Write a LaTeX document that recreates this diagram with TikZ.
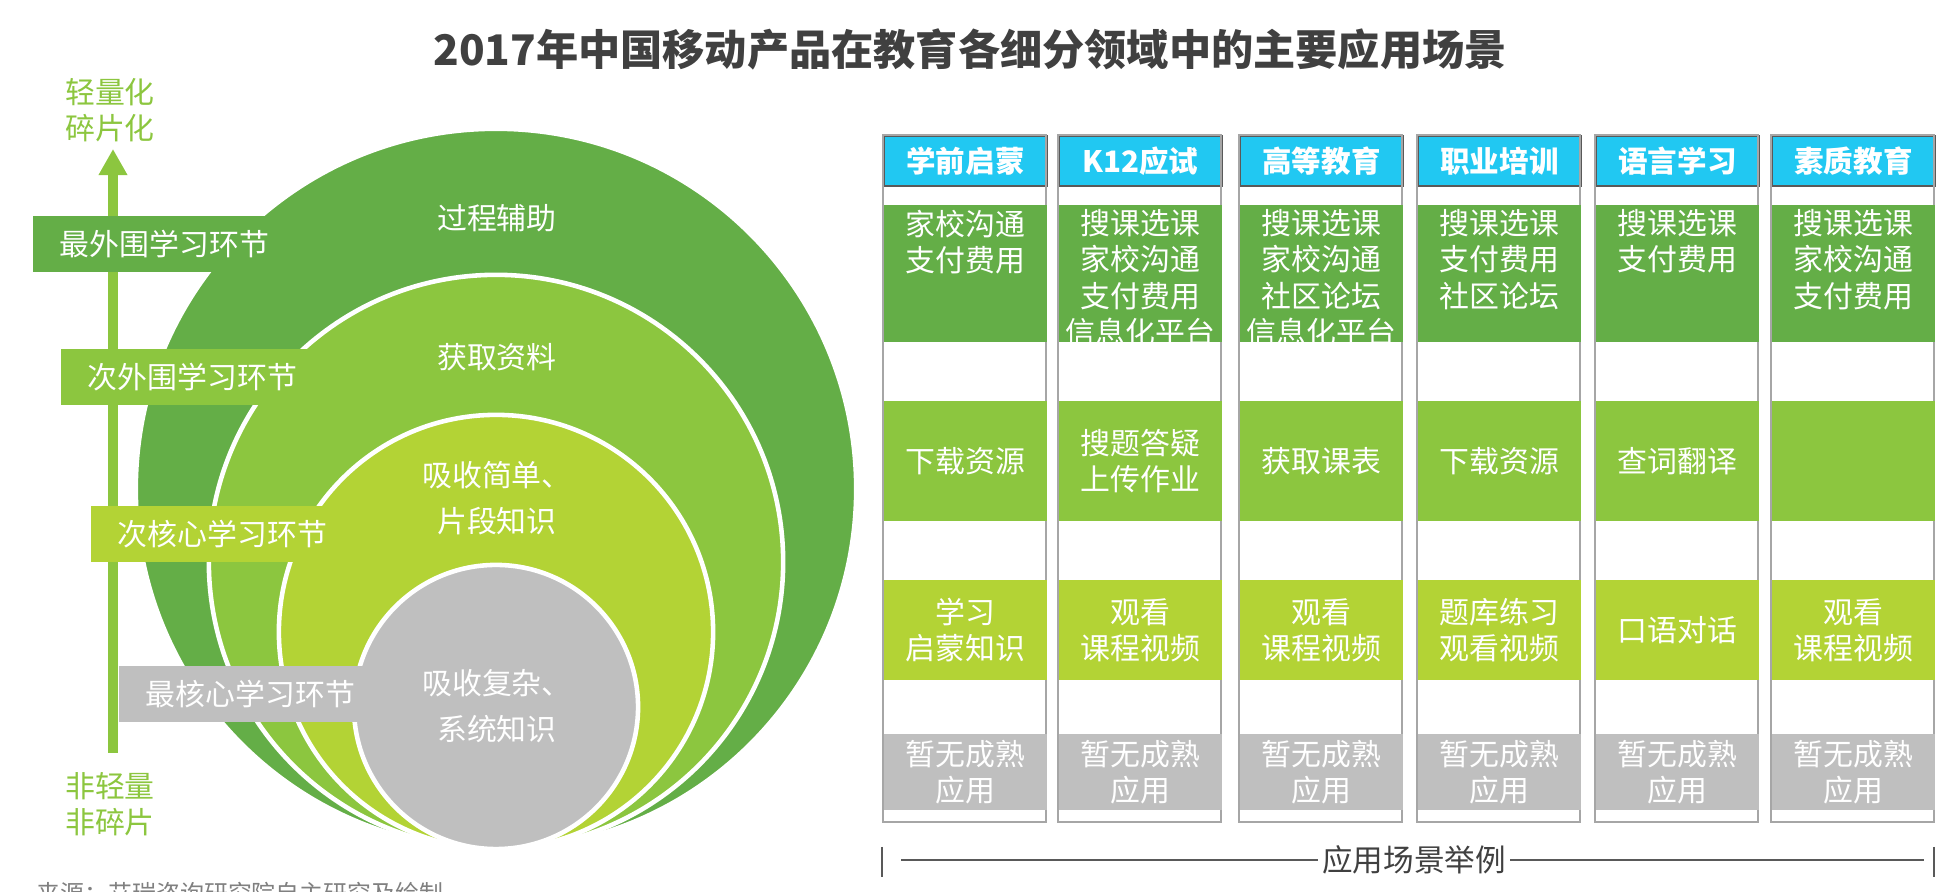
\documentclass[tikz,border=0pt]{standalone}
\usepackage{fontspec}
\setmainfont{Noto Sans CJK SC}
\usepackage{tikz}
\usetikzlibrary{arrows.meta,positioning}
\definecolor{gdark}{RGB}{100,174,71}
\definecolor{glight}{RGB}{140,198,63}
\definecolor{gyellow}{RGB}{179,211,53}
\definecolor{ggray}{RGB}{191,191,191}
\definecolor{hdcyan}{RGB}{33,200,242}
\definecolor{inkgray}{RGB}{64,64,64}

\begin{document}
\begin{tikzpicture}[x=0.01cm,y=-0.01cm,>=Stealth,node distance=0.5cm,
  txt/.style={font=\fontsize{8.5}{10.25}\selectfont},
  ring/.style={circle,draw=white,line width=1.3pt,inner sep=0},
  ringtxt/.style={text=white,align=center,font=\fontsize{8.5}{13.1}\selectfont},
  lvl/.style={anchor=west,minimum height=0.56cm,inner xsep=0.27cm,inner ysep=0,text=white,align=left,txt,text width=#1},
  hdr/.style={fill=hdcyan,draw=black!65,line width=0.6pt,minimum width=1.63cm,minimum height=0.5cm,inner sep=0,text=white,font=\bfseries\fontsize{8.4}{10}\selectfont},
  cell/.style={minimum width=1.63cm,inner sep=0,text=white,align=center,txt}]
  \useasboundingbox (0,0) rectangle (1956,892);

  \node[font=\bfseries\fontsize{12}{14}\selectfont,text=inkgray] (title) at (970,49) {2017年中国移动产品在教育各细分领域中的主要应用场景};

  % axis on the left
  \node[txt,text=glight,align=center] (light) at (110,110) {轻量化\\碎片化};
  \node[txt,text=glight,align=center] (heavy) at (110,804) {非轻量\\非碎片};
  \coordinate (axLow) at (113,753);
  \coordinate (axTop) at (113,149);
  \draw[glight,line width=0.09cm,-{Triangle[length=0.26cm,width=0.27cm]}] (axLow) -- (axTop);

  % nested rings and their labels
  \node[ring,fill=gdark,minimum size=7.2cm] (ringA) at (496,489) {};
  \node[lvl=2.44cm,fill=gdark] (labA) at (32,244) {最外围学习环节};
  \node[ring,fill=glight,minimum size=5.74cm] (ringB) at (496,562) {};
  \node[lvl=2.66cm,fill=glight] (labB) at (60,377) {次外围学习环节};
  \node[ring,fill=gyellow,minimum size=4.34cm] (ringC) at (496,632) {};
  \node[lvl=2.46cm,fill=gyellow] (labC) at (90,534) {次核心学习环节};
  \node[ring,fill=ggray,minimum size=2.84cm] (core) at (496,707) {};
  \node[lvl=2.28cm,fill=ggray] (labD) at (118,694) {最核心学习环节};
  \node[ringtxt] (tA) at (497,218) {过程辅助};
  \node[ringtxt] (tB) at (497,357) {获取资料};
  \node[ringtxt] (tC) at (497,498) {吸收简单、\\片段知识};
  \node[ringtxt] (tD) at (497,706) {吸收复杂、\\系统知识};

  % table of scenarios
  \node[hdr] (h1) at (965.5,161) {学前启蒙};
  \node[hdr] (h2) at (1140.5,161) {K12应试};
  \node[hdr] (h3) at (1321.5,161) {高等教育};
  \node[hdr] (h4) at (1499.5,161) {职业培训};
  \node[hdr] (h5) at (1677.5,161) {语言学习};
  \node[hdr] (h6) at (1853.5,161) {素质教育};
  \draw[black!35] (h1.north west) rectangle ++(163,687);
  \draw[black!35] (h2.north west) rectangle ++(163,687);
  \draw[black!35] (h3.north west) rectangle ++(163,687);
  \draw[black!35] (h4.north west) rectangle ++(163,687);
  \draw[black!35] (h5.north west) rectangle ++(163,687);
  \draw[black!35] (h6.north west) rectangle ++(163,687);

  \node[cell,fill=gdark,minimum height=1.37cm,below=0.17cm of h1] (a1) {};
  \node[cell,fill=gdark,minimum height=1.37cm,below=0.17cm of h2] (a2) {};
  \node[cell,fill=gdark,minimum height=1.37cm,below=0.17cm of h3] (a3) {};
  \node[cell,fill=gdark,minimum height=1.37cm,below=0.17cm of h4] (a4) {};
  \node[cell,fill=gdark,minimum height=1.37cm,below=0.17cm of h5] (a5) {};
  \node[cell,fill=gdark,minimum height=1.37cm,below=0.17cm of h6] (a6) {};
  \begin{scope}
    \clip (a1.north west) rectangle (a6.south east);
    \node[cell,below=0.05cm of a1.north] (t1) {家校沟通\\支付费用};
    \node[cell,below=0.05cm of a2.north] (t2) {搜课选课\\家校沟通\\支付费用\\信息化平台};
    \node[cell,below=0.05cm of a3.north] (t3) {搜课选课\\家校沟通\\社区论坛\\信息化平台};
    \node[cell,below=0.05cm of a4.north] (t4) {搜课选课\\支付费用\\社区论坛};
    \node[cell,below=0.05cm of a5.north] (t5) {搜课选课\\支付费用};
    \node[cell,below=0.05cm of a6.north] (t6) {搜课选课\\家校沟通\\支付费用};
  \end{scope}

  \node[cell,fill=glight,minimum height=1.2cm,below=0.58cm of a1] (b1) {下载资源};
  \node[cell,fill=glight,minimum height=1.2cm,below=0.58cm of a2] (b2) {搜题答疑\\上传作业};
  \node[cell,fill=glight,minimum height=1.2cm,below=0.58cm of a3] (b3) {获取课表};
  \node[cell,fill=glight,minimum height=1.2cm,below=0.58cm of a4] (b4) {下载资源};
  \node[cell,fill=glight,minimum height=1.2cm,below=0.58cm of a5] (b5) {查词翻译};
  \node[cell,fill=glight,minimum height=1.2cm,below=0.58cm of a6] (b6) {};

  \node[cell,fill=gyellow,minimum height=1cm,below=0.57cm of b1] (c1) {学习\\启蒙知识};
  \node[cell,fill=gyellow,minimum height=1cm,below=0.57cm of b2] (c2) {观看\\课程视频};
  \node[cell,fill=gyellow,minimum height=1cm,below=0.57cm of b3] (c3) {观看\\课程视频};
  \node[cell,fill=gyellow,minimum height=1cm,below=0.57cm of b4] (c4) {题库练习\\观看视频};
  \node[cell,fill=gyellow,minimum height=1cm,below=0.57cm of b5] (c5) {口语对话};
  \node[cell,fill=gyellow,minimum height=1cm,below=0.57cm of b6] (c6) {观看\\课程视频};

  \node[cell,fill=ggray,minimum height=0.76cm,below=0.53cm of c1] (d1) {暂无成熟\\应用};
  \node[cell,fill=ggray,minimum height=0.76cm,below=0.53cm of c2] (d2) {暂无成熟\\应用};
  \node[cell,fill=ggray,minimum height=0.76cm,below=0.53cm of c3] (d3) {暂无成熟\\应用};
  \node[cell,fill=ggray,minimum height=0.76cm,below=0.53cm of c4] (d4) {暂无成熟\\应用};
  \node[cell,fill=ggray,minimum height=0.76cm,below=0.53cm of c5] (d5) {暂无成熟\\应用};
  \node[cell,fill=ggray,minimum height=0.76cm,below=0.53cm of c6] (d6) {暂无成熟\\应用};

  % bracket under the table
  \node[font=\fontsize{8.7}{10}\selectfont,text=inkgray,inner sep=1pt] (appl) at (1414,860) {应用场景举例};
  \coordinate (brL) at (901,860);
  \coordinate (brR) at (1924,860);
  \draw[black!65,line width=0.6pt] (brL) -- (appl.west) (appl.east) -- (brR);
  \draw[black!65,line width=0.6pt] (882,847) -- (882,877) (1934,847) -- (1934,877);

  \node[anchor=west,inner sep=0,font=\fontsize{6.8}{8}\selectfont,text=black!50] (src) at (36,893) {来源：艾瑞咨询研究院自主研究及绘制};
\end{tikzpicture}
\end{document}
